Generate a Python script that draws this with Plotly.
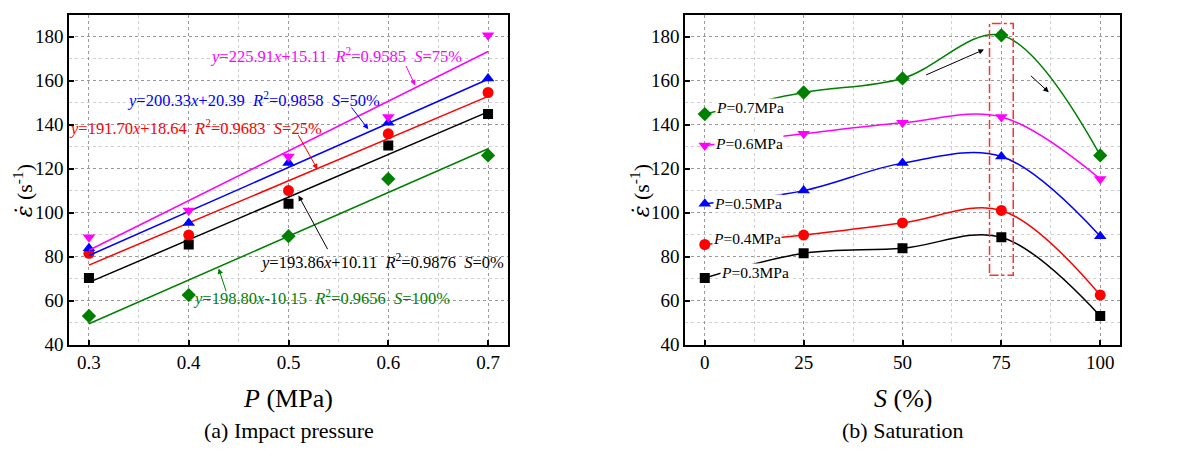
import plotly.graph_objects as go

# ---------------- data ----------------
P_values = [0.3, 0.4, 0.5, 0.6, 0.7]          # impact pressure (MPa)
S_values = [0, 25, 50, 75, 100]               # saturation (%)

rate_S0 = [70.3, 85.5, 104.0, 130.5, 144.8]
rate_S25 = [81.5, 89.8, 110.0, 135.8, 154.6]
rate_S50 = [83.8, 95.3, 122.5, 140.8, 161.0]
rate_S75 = [88.8, 101.0, 125.5, 143.5, 180.6]
rate_S100 = [53.0, 62.5, 89.3, 115.3, 126.0]

fit_slope = [193.86, 191.70, 200.33, 225.91, 198.80]
fit_intercept = [10.11, 18.64, 20.39, 15.11, -10.15]
fit_r2 = ["0.9876", "0.9683", "0.9858", "0.9585", "0.9656"]
fit_x = [0.3, 0.7]

series_S = [rate_S0, rate_S25, rate_S50, rate_S75, rate_S100]
S_labels = ["0%", "25%", "50%", "75%", "100%"]
P_labels = ["0.3MPa", "0.4MPa", "0.5MPa", "0.6MPa", "0.7MPa"]

# ---------------- styles ----------------
FONT = "Liberation Serif, Times New Roman, Tinos, serif"
colors_S = ["#000000", "#FF0000", "#0000FF", "#FF00FF", "#008000"]
symbols_S = ["square", "circle", "triangle-up", "triangle-down", "diamond"]
colors_P = ["#000000", "#FF0000", "#0000FF", "#FF00FF", "#008000"]
symbols_P = ["square", "circle", "triangle-up", "triangle-down", "diamond"]
msize = [10, 11, 11, 11, 11]

fig = go.Figure()

# ---------------- left panel ----------------
for i, ys in enumerate(series_S):
    fig.add_trace(go.Scatter(
        x=P_values, y=ys, mode="markers", xaxis="x", yaxis="y",
        marker=dict(symbol=symbols_S[i], size=msize[i], color=colors_S[i]),
        showlegend=False, hoverinfo="skip"))
    fy = [fit_slope[i] * xv + fit_intercept[i] for xv in fit_x]
    fig.add_trace(go.Scatter(
        x=fit_x, y=fy, mode="lines", xaxis="x", yaxis="y",
        line=dict(color=colors_S[i], width=1.5),
        showlegend=False, hoverinfo="skip"))

# ---------------- right panel ----------------
for j in range(len(P_values)):
    ys = [series_S[k][j] for k in range(len(S_values))]
    fig.add_trace(go.Scatter(
        x=S_values, y=ys, mode="lines+markers", xaxis="x2", yaxis="y2",
        line=dict(color=colors_P[j], width=1.5, shape="spline", smoothing=1.0),
        marker=dict(symbol=symbols_P[j], size=msize[j], color=colors_P[j]),
        showlegend=False, hoverinfo="skip"))

annotations = []

# fit equations (left)
eq_pos = [(0.594, 78.0), (0.407, 138.9), (0.4645, 151.4), (0.548, 171.4), (0.533, 61.3)]
NB = "\u00a0\u00a0"
for i in range(5):
    sign = "+" if fit_intercept[i] >= 0 else "-"
    txt = (f"<i>y</i>={fit_slope[i]:.2f}<i>x</i>{sign}{abs(fit_intercept[i]):.2f}{NB}"
           f"<i>R</i><sup>2</sup>={fit_r2[i]}{NB}<i>S</i>={S_labels[i]}")
    annotations.append(dict(x=eq_pos[i][0], y=eq_pos[i][1], xref="x", yref="y",
                            text=txt, showarrow=False,
                            font=dict(family=FONT, size=16.5, color=colors_S[i]),
                            xanchor="center", yanchor="middle"))

# arrows (left)
arrows_left = [
    ((0.540, 82.7), (0.510, 107.8), colors_S[0]),
    ((0.509, 135.9), (0.529, 119.7), colors_S[1]),
    ((0.562, 148.5), (0.580, 137.9), colors_S[2]),
    ((0.617, 167.4), (0.627, 157.8), colors_S[3]),
    ((0.438, 63.5), (0.430, 74.6), colors_S[4]),
]
for (sx, sy), (ex, ey), c in arrows_left:
    annotations.append(dict(x=ex, y=ey, ax=sx, ay=sy, xref="x", yref="y",
                            axref="x", ayref="y", text="", showarrow=True,
                            arrowhead=2, arrowsize=1.1, arrowwidth=1, arrowcolor=c))

# P labels (right)
p_pos = [(12.8, 72.8), (10.8, 88.2), (10.9, 104.2), (11.1, 131.5), (11.5, 148.0)]
for j in range(5):
    annotations.append(dict(x=p_pos[j][0], y=p_pos[j][1], xref="x2", yref="y2",
                            text=f"<i>P</i>={P_labels[j]}", showarrow=False,
                            font=dict(family=FONT, size=15.5, color="black"),
                            bgcolor="white", borderpad=0,
                            xanchor="center", yanchor="middle"))

# arrows (right)
for (sx, sy), (ex, ey) in [((55.6, 162.3), (70.6, 174.1)), ((82.1, 162.8), (87.0, 154.7))]:
    annotations.append(dict(x=ex, y=ey, ax=sx, ay=sy, xref="x2", yref="y2",
                            axref="x2", ayref="y2", text="", showarrow=True,
                            arrowhead=2, arrowsize=1.1, arrowwidth=1, arrowcolor="black"))

# axis titles & captions
ytitle = ("<span style=\"font-family:'DejaVu Serif'\"><i>\u03b5\u0307</i></span>"
          "\u00a0(s<sup>-1</sup>)")
annotations += [
    dict(x=23 / 1204, y=1 - 196 / 462, xref="paper", yref="paper", text=ytitle,
         textangle=-90, showarrow=False, font=dict(family=FONT, size=22, color="black"),
         xanchor="center", yanchor="middle"),
    dict(x=640 / 1204, y=1 - 196 / 462, xref="paper", yref="paper", text=ytitle,
         textangle=-90, showarrow=False, font=dict(family=FONT, size=22, color="black"),
         xanchor="center", yanchor="middle"),
    dict(x=288 / 1204, y=1 - 408 / 462, xref="paper", yref="paper",
         text="<i>P</i> (MPa)", showarrow=False,
         font=dict(family=FONT, size=26, color="black"), xanchor="center", yanchor="middle"),
    dict(x=903 / 1204, y=1 - 408 / 462, xref="paper", yref="paper",
         text="<i>S</i> (%)", showarrow=False,
         font=dict(family=FONT, size=26, color="black"), xanchor="center", yanchor="middle"),
    dict(x=289 / 1204, y=1 - 441 / 462, xref="paper", yref="paper",
         text="(a) Impact pressure", showarrow=False,
         font=dict(family=FONT, size=22, color="black"), xanchor="center", yanchor="middle"),
    dict(x=903 / 1204, y=1 - 441 / 462, xref="paper", yref="paper",
         text="(b) Saturation", showarrow=False,
         font=dict(family=FONT, size=22, color="black"), xanchor="center", yanchor="middle"),
]

shapes = [dict(type="rect", xref="x2", yref="y2", x0=72, x1=78, y0=71.5, y1=186,
               line=dict(color="#FF3030", width=1.5, dash="dashdot"))]

GRID = "#9a9a9a"
MINOR = "#d0d0d0"
ydom = [1 - 353 / 462, 1 - 15 / 462]


def xaxis_cfg(domain, rng, dtick, mdtick, anchor, fmt):
    return dict(domain=domain, range=rng, anchor=anchor, tickmode="linear",
                tick0=0, dtick=dtick, tickformat=fmt,
                showline=True, linecolor="black", linewidth=1.5, mirror=True,
                ticks="inside", ticklen=5, tickcolor="black", tickwidth=1.5,
                showgrid=True, gridcolor=GRID, griddash="dot", gridwidth=1,
                minor=dict(dtick=mdtick, showgrid=True, gridcolor=MINOR,
                           griddash="dot", gridwidth=1),
                zeroline=False,
                tickfont=dict(family=FONT, size=19, color="black"))


def yaxis_cfg(anchor):
    return dict(domain=ydom, range=[40, 190], anchor=anchor, tickmode="linear",
                tick0=0, dtick=20,
                showline=True, linecolor="black", linewidth=1.5, mirror=True,
                ticks="inside", ticklen=5, tickcolor="black", tickwidth=1.5,
                showgrid=True, gridcolor=GRID, griddash="dot", gridwidth=1,
                minor=dict(dtick=10, showgrid=True, gridcolor=MINOR,
                           griddash="dot", gridwidth=1),
                zeroline=False,
                tickfont=dict(family=FONT, size=19, color="black"))


fig.update_layout(
    width=1204, height=462,
    margin=dict(l=0, r=0, t=0, b=0),
    paper_bgcolor="white", plot_bgcolor="white",
    showlegend=False,
    xaxis=xaxis_cfg([69 / 1204, 508 / 1204], [0.28, 0.72], 0.1, 0.05, "y", ".1f"),
    yaxis=yaxis_cfg("x"),
    xaxis2=xaxis_cfg([685 / 1204, 1120 / 1204], [-5, 105], 25, 12.5, "y2", "d"),
    yaxis2=yaxis_cfg("x2"),
    annotations=annotations,
    shapes=shapes,
)

fig.write_html("out.html")
